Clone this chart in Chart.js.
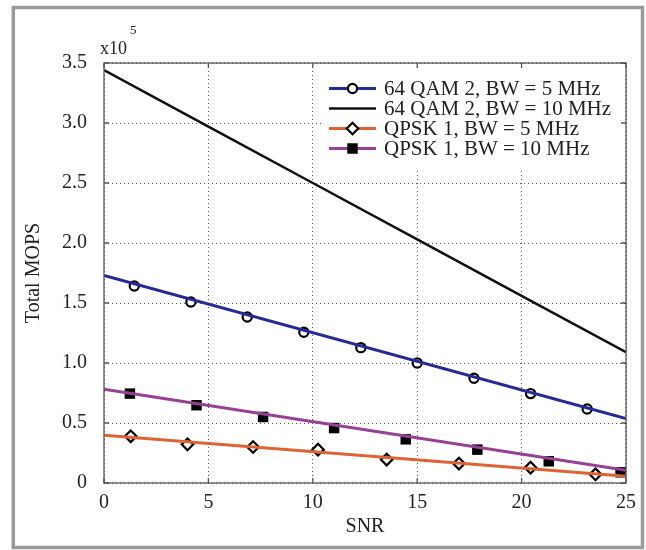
<!DOCTYPE html>
<html>
<head>
<meta charset="utf-8">
<title>Total MOPS vs SNR</title>
<script src="https://cdn.jsdelivr.net/npm/chart.js@4.4.1/dist/chart.umd.min.js"></script>
<style>
  html, body { margin: 0; padding: 0; background: #fff; }
  #wrap { width: 646px; height: 550px; position: relative; }
</style>
</head>
<body>
<div id="wrap"><canvas id="mopsChart"></canvas></div>
<script>
// Total MOPS values are in units of 1e5 (the axis shows "x10^5")
const snrTicks = [0, 5, 10, 15, 20, 25];
const mopsTicks = [0, 0.5, 1.0, 1.5, 2.0, 2.5, 3.0, 3.5];

// Lines
const lineSnr = [0, 25];
const qam5Line = [1.73, 0.537];
const qam10Snr = [0, 5, 10, 15, 20, 25];
const qam10Line = [3.44, 2.97, 2.50, 2.03, 1.56, 1.09];
const qpsk5Line = [0.398, 0.056];
const qpsk10Line = [0.781, 0.106];

// Markers
const qam5MarkSnr = [1.45, 4.16, 6.86, 9.57, 12.30, 15.0, 17.72, 20.43, 23.14];
const qam5Marks = [1.642, 1.508, 1.383, 1.256, 1.128, 1.000, 0.873, 0.745, 0.617];
const qpsk5MarkSnr = [1.28, 4.0, 7.14, 10.25, 13.54, 17.0, 20.43, 23.54];
const qpsk5Marks = [0.389, 0.322, 0.300, 0.278, 0.195, 0.162, 0.128, 0.072];
const qpsk10MarkSnr = [1.24, 4.43, 7.62, 11.02, 14.45, 17.88, 21.3, 24.74];
const qpsk10Marks = [0.745, 0.648, 0.550, 0.458, 0.364, 0.278, 0.181, 0.089];

const FONT = "'Liberation Serif', 'DejaVu Serif', serif";
const TEXT = "#222";

function pts(xs, ys) {
  return xs.map((x, i) => ({ x: x, y: ys[i] }));
}

function lineSet(label, xs, ys, color, width) {
  return { label: label, data: pts(xs, ys), borderColor: color, borderWidth: width,
           pointRadius: 0, showLine: true, fill: false, tension: 0 };
}

function markSet(label, xs, ys, style, radius, fillColor, borderWidth) {
  return { label: label, data: pts(xs, ys), showLine: false, pointStyle: style,
           pointRadius: radius, pointBackgroundColor: fillColor,
           pointBorderColor: "#000", pointBorderWidth: borderWidth };
}

const datasets = [
  lineSet("64 QAM 2, BW = 5 MHz", lineSnr, qam5Line, "#262a98", 3),
  markSet("64 QAM 2, BW = 5 MHz", qam5MarkSnr, qam5Marks, "circle", 4.6, "#fff", 2.2),
  lineSet("64 QAM 2, BW = 10 MHz", qam10Snr, qam10Line, "#111", 2.5),
  lineSet("QPSK 1, BW = 5 MHz", lineSnr, qpsk5Line, "#dc6432", 3),
  markSet("QPSK 1, BW = 5 MHz", qpsk5MarkSnr, qpsk5Marks, "rectRot", 5.8, "#fff", 2.2),
  lineSet("QPSK 1, BW = 10 MHz", lineSnr, qpsk10Line, "#964196", 3),
  markSet("QPSK 1, BW = 10 MHz", qpsk10MarkSnr, qpsk10Marks, "rect", 7.4, "#000", 0)
];

// line dataset index + marker dataset index for each legend row
const legendRows = [[0, 1], [2, null], [3, 4], [5, 6]];

function drawMarker(ctx, ds, x, y) {
  const r = ds.pointRadius;
  ctx.save();
  ctx.beginPath();
  if (ds.pointStyle === "circle") {
    ctx.arc(x, y, r, 0, Math.PI * 2);
  } else if (ds.pointStyle === "rectRot") {
    ctx.moveTo(x - r, y); ctx.lineTo(x, y - r); ctx.lineTo(x + r, y); ctx.lineTo(x, y + r);
    ctx.closePath();
  } else {
    const s = r * Math.SQRT1_2;
    ctx.rect(x - s, y - s, 2 * s, 2 * s);
  }
  ctx.fillStyle = ds.pointBackgroundColor;
  ctx.fill();
  if (ds.pointBorderWidth) {
    ctx.lineWidth = ds.pointBorderWidth;
    ctx.strokeStyle = ds.pointBorderColor;
    ctx.stroke();
  }
  ctx.restore();
}

const framePlugin = {
  id: "frame",
  afterDatasetsDraw(chart) {
    const ctx = chart.ctx;
    const a = chart.chartArea;
    const xs = chart.scales.x, ys = chart.scales.y;

    // legend box
    ctx.save();
    ctx.fillStyle = "#fff";
    ctx.fillRect(321, 68, a.right - 1 - 321, 102);
    ctx.font = "21px " + FONT;
    ctx.textBaseline = "middle";
    ctx.fillStyle = TEXT;
    legendRows.forEach((row, i) => {
      const y = 88.5 + i * 20;
      const ds = chart.data.datasets[row[0]];
      ctx.beginPath();
      ctx.moveTo(329, y); ctx.lineTo(376, y);
      ctx.strokeStyle = ds.borderColor;
      ctx.lineWidth = ds.borderWidth;
      ctx.stroke();
      if (row[1] !== null) drawMarker(ctx, chart.data.datasets[row[1]], 352.5, y);
      ctx.fillText(ds.label, 384, y + 1);
    });
    ctx.restore();

    // axes box with inward ticks
    ctx.save();
    ctx.strokeStyle = "#555";
    ctx.lineWidth = 1.3;
    ctx.strokeRect(a.left, a.top, a.right - a.left, a.bottom - a.top);
    ctx.beginPath();
    snrTicks.forEach(v => {
      const px = xs.getPixelForValue(v);
      ctx.moveTo(px, a.bottom); ctx.lineTo(px, a.bottom - 5);
      ctx.moveTo(px, a.top); ctx.lineTo(px, a.top + 5);
    });
    mopsTicks.forEach(v => {
      const py = ys.getPixelForValue(v);
      ctx.moveTo(a.left, py); ctx.lineTo(a.left + 5, py);
      ctx.moveTo(a.right, py); ctx.lineTo(a.right - 5, py);
    });
    ctx.stroke();
    ctx.restore();
  },
  afterDraw(chart) {
    const ctx = chart.ctx;
    ctx.save();
    // exponent label
    ctx.fillStyle = TEXT;
    ctx.textBaseline = "alphabetic";
    ctx.font = "18px " + FONT;
    ctx.fillText("x10", 100, 53.5);
    ctx.font = "13px " + FONT;
    ctx.fillText("5", 130, 33.5);
    // outer figure frame
    ctx.strokeStyle = "#9a9a9a";
    ctx.lineWidth = 3.5;
    ctx.strokeRect(13.3, 7.5, 629.2, 540);
    ctx.restore();
  }
};

Chart.defaults.font.family = FONT;
Chart.defaults.color = TEXT;

const ctx = document.getElementById("mopsChart").getContext("2d");
const mopsChart = new Chart(ctx, {
  type: "line",
  data: { datasets: datasets },
  options: {
    responsive: true,
    maintainAspectRatio: false,
    animation: false,
    layout: { padding: { left: 22, top: 63, right: 20, bottom: 11 } },
    plugins: { legend: { display: false }, tooltip: { enabled: false } },
    scales: {
      x: {
        type: "linear",
        min: 0, max: 25,
        afterBuildTicks: s => { s.ticks = snrTicks.map(v => ({ value: v })); },
        afterFit: s => { s.height = 56; },
        grid: { color: "#555", lineWidth: 1, drawTicks: false },
        border: { display: false, dash: [1, 3] },
        ticks: { font: { size: 20 }, padding: 8, color: TEXT, maxRotation: 0 },
        title: { display: true, text: "SNR", font: { size: 20 }, color: TEXT, padding: 0 }
      },
      y: {
        min: 0, max: 3.5,
        afterBuildTicks: s => { s.ticks = mopsTicks.map(v => ({ value: v })); },
        afterFit: s => { s.width = 82; },
        grid: { color: "#555", lineWidth: 1, drawTicks: false },
        border: { display: false, dash: [1, 3] },
        ticks: {
          font: { size: 20 }, padding: 17, color: TEXT,
          callback: v => (v === 0 ? "0" : v.toFixed(1))
        },
        title: { display: true, text: "Total MOPS", font: { size: 20 }, color: TEXT, padding: 0 }
      }
    }
  },
  plugins: [framePlugin]
});
</script>
</body>
</html>
